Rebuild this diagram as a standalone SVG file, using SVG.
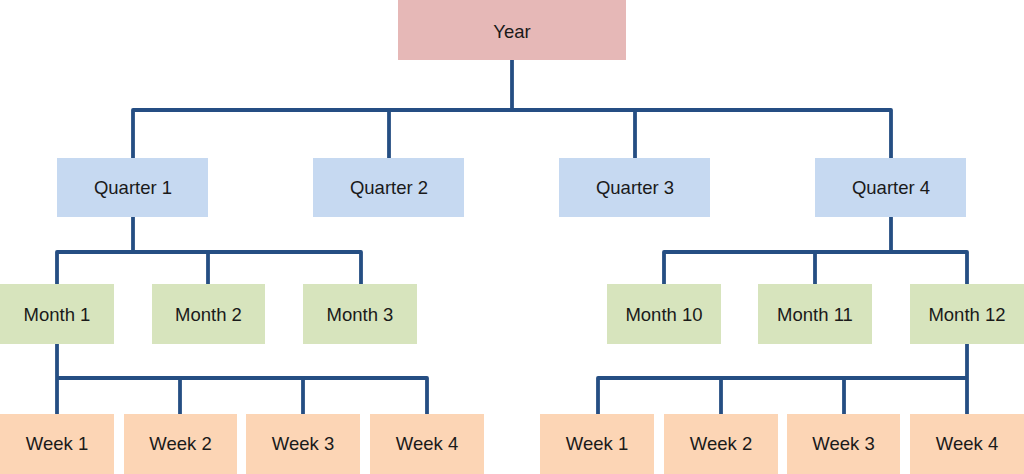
<svg xmlns="http://www.w3.org/2000/svg" width="1024" height="474" viewBox="0 0 1024 474">
<style>
.yr{fill:#E6B8B7}
.qt{fill:#C6D9F1}
.mo{fill:#D7E4BD}
.wk{fill:#FCD5B5}
text{font-family:"Liberation Sans",Arial,sans-serif;font-size:18.5px;fill:#1a1a1a;text-anchor:middle}
.c{fill:none;stroke:#254E83;stroke-width:3.8;stroke-linejoin:round}
</style>
<rect width="1024" height="474" fill="#ffffff"/>
<g id="connectors" class="c">
<path class="c" d="M512,60 V110"/>
<path class="c" d="M133,158 V110 H891 V158"/>
<path class="c" d="M389,110 V158"/>
<path class="c" d="M635,110 V158"/>
<path class="c" d="M133,217 V252"/>
<path class="c" d="M57,284 V252 H361 V284"/>
<path class="c" d="M208,252 V284"/>
<path class="c" d="M57,344 V414"/>
<path class="c" d="M57,378 H427 V414"/>
<path class="c" d="M180,378 V414"/>
<path class="c" d="M303,378 V414"/>
<path class="c" d="M891,217 V252"/>
<path class="c" d="M664,284 V252 H967 V284"/>
<path class="c" d="M815,252 V284"/>
<path class="c" d="M967,344 V414"/>
<path class="c" d="M598,414 V378 H967"/>
<path class="c" d="M721,378 V414"/>
<path class="c" d="M844,378 V414"/>
</g>
<g id="year"><rect class="yr" x="398" y="0" width="228" height="60"/><text x="512" y="37.5">Year</text></g>
<g id="q1"><rect class="qt" x="57" y="158" width="151" height="59"/><text x="133" y="194">Quarter 1</text></g>
<g id="q2"><rect class="qt" x="313" y="158" width="151" height="59"/><text x="389" y="194">Quarter 2</text></g>
<g id="q3"><rect class="qt" x="559" y="158" width="151" height="59"/><text x="635" y="194">Quarter 3</text></g>
<g id="q4"><rect class="qt" x="815" y="158" width="151" height="59"/><text x="891" y="194">Quarter 4</text></g>
<g id="m1"><rect class="mo" x="0" y="284" width="114" height="60"/><text x="57" y="320.5">Month 1</text></g>
<g id="m2"><rect class="mo" x="152" y="284" width="113" height="60"/><text x="208.5" y="320.5">Month 2</text></g>
<g id="m3"><rect class="mo" x="303" y="284" width="114" height="60"/><text x="360" y="320.5">Month 3</text></g>
<g id="m10"><rect class="mo" x="607" y="284" width="114" height="60"/><text x="664" y="320.5">Month 10</text></g>
<g id="m11"><rect class="mo" x="758" y="284" width="114" height="60"/><text x="815" y="320.5">Month 11</text></g>
<g id="m12"><rect class="mo" x="910" y="284" width="114" height="60"/><text x="967" y="320.5">Month 12</text></g>
<g id="w1a"><rect class="wk" x="0" y="414" width="114" height="60"/><text x="57" y="449.5">Week 1</text></g>
<g id="w2a"><rect class="wk" x="124" y="414" width="113" height="60"/><text x="180.5" y="449.5">Week 2</text></g>
<g id="w3a"><rect class="wk" x="246" y="414" width="114" height="60"/><text x="303" y="449.5">Week 3</text></g>
<g id="w4a"><rect class="wk" x="370" y="414" width="114" height="60"/><text x="427" y="449.5">Week 4</text></g>
<g id="w1b"><rect class="wk" x="540" y="414" width="114" height="60"/><text x="597" y="449.5">Week 1</text></g>
<g id="w2b"><rect class="wk" x="664" y="414" width="114" height="60"/><text x="721" y="449.5">Week 2</text></g>
<g id="w3b"><rect class="wk" x="787" y="414" width="113" height="60"/><text x="843.5" y="449.5">Week 3</text></g>
<g id="w4b"><rect class="wk" x="910" y="414" width="114" height="60"/><text x="967" y="449.5">Week 4</text></g>
</svg>
